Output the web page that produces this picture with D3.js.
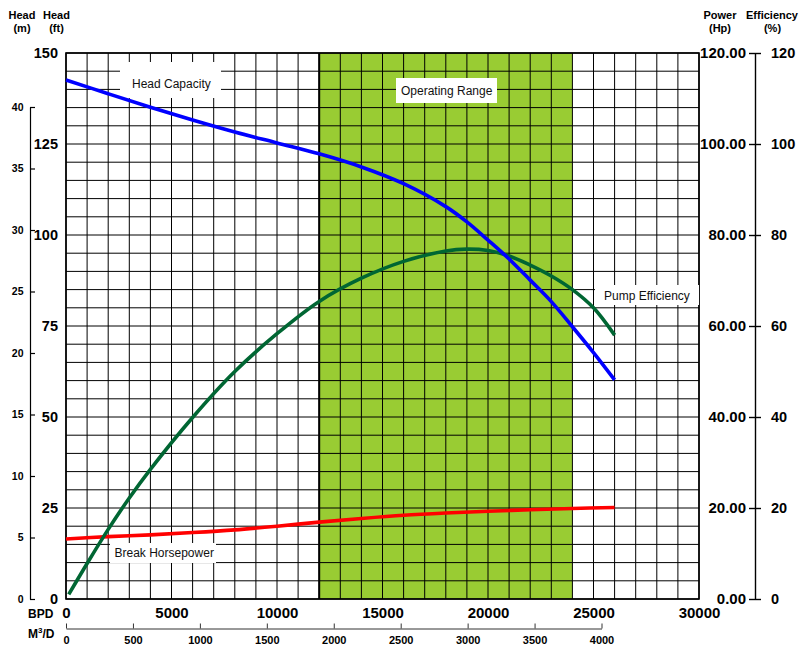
<!DOCTYPE html>
<html>
<head>
<meta charset="utf-8">
<script src="https://cdn.jsdelivr.net/npm/d3@7"></script>
<style>
  html, body { margin: 0; padding: 0; background: #fff; }
  svg { display: block; font-family: "Liberation Sans", Arial, sans-serif; }
</style>
</head>
<body>
<svg id="chart" width="804" height="656"></svg>
<script>
// ---------- data ----------
const headFlow = [0, 2000, 4000, 6000, 8000, 10000, 12000, 14000, 16000, 18000, 19000, 20000, 21000, 22000, 23000, 24000, 25000, 26000];
const headFt   = [142.6, 138.8, 135.1, 131.6, 128.3, 125.3, 122.3, 118.7, 114.1, 107.8, 103.6, 98.6, 93.4, 87.6, 81.7, 74.8, 67.7, 60.2];

const effFlow  = [130, 1000, 2000, 3000, 4000, 6000, 8000, 10000, 12000, 14000, 16000, 18000, 19000, 20000, 21000, 22000, 23000, 24000, 25000, 26000];
const effPct   = [1.0, 7.8, 15.3, 22.2, 28.5, 39.9, 50.0, 58.3, 65.4, 70.5, 74.2, 76.5, 76.9, 76.6, 75.4, 73.4, 71.0, 68.0, 64.0, 58.0];

const bhpFlow  = [0, 2000, 4000, 6000, 8000, 10000, 12000, 14000, 16000, 18000, 20000, 22000, 24000, 26000];
const bhpHp    = [13.2, 13.7, 14.1, 14.6, 15.2, 16.0, 16.9, 17.7, 18.4, 18.9, 19.3, 19.6, 19.9, 20.1];

const operatingRange = [12000, 24000];

const bpdTicks   = [0, 5000, 10000, 15000, 20000, 25000, 30000];
const m3Ticks    = [0, 500, 1000, 1500, 2000, 2500, 3000, 3500, 4000];
const ftTicks    = [0, 25, 50, 75, 100, 125, 150];
const mTicks     = [0, 5, 10, 15, 20, 25, 30, 35, 40];
const powerTicks = [0, 20, 40, 60, 80, 100, 120];
const effTicks   = [0, 20, 40, 60, 80, 100, 120];

const labels = {
  head: "Head Capacity",
  eff: "Pump Efficiency",
  bhp: "Break Horsepower",
  range: "Operating Range"
};

// ---------- scales ----------
const svg = d3.select("#chart");
const L = 66, R = 699, T = 53, B = 599;

const x   = d3.scaleLinear().domain([0, 30000]).range([L, R]);
const xM3 = d3.scaleLinear().domain([0, 4000]).range([L, 601.5]);
const yFt = d3.scaleLinear().domain([0, 150]).range([B, T]);
const yM  = d3.scaleLinear().domain([0, 44.39]).range([B, T]);
const yP  = d3.scaleLinear().domain([0, 120]).range([B, T]);

// ---------- operating range ----------
svg.append("rect")
  .attr("x", x(operatingRange[0])).attr("y", T)
  .attr("width", x(operatingRange[1]) - x(operatingRange[0]))
  .attr("height", B - T)
  .attr("fill", "#99cc33");

// ---------- grid ----------
const grid = svg.append("g").attr("stroke", "#000").attr("stroke-width", 1).attr("fill", "none");
grid.selectAll("line.v").data(d3.range(0, 30001, 1000)).join("line")
  .attr("x1", d => x(d)).attr("x2", d => x(d)).attr("y1", T).attr("y2", B);
grid.selectAll("line.h").data(d3.range(0, 151, 5)).join("line")
  .attr("class", "h")
  .attr("x1", L).attr("x2", R).attr("y1", d => yFt(d)).attr("y2", d => yFt(d));
svg.append("rect").attr("x", L).attr("y", T).attr("width", R - L).attr("height", B - T)
  .attr("fill", "none").attr("stroke", "#000").attr("stroke-width", 1.6);
svg.append("line").attr("x1", x(operatingRange[0])).attr("x2", x(operatingRange[0]))
  .attr("y1", T).attr("y2", B).attr("stroke", "#000").attr("stroke-width", 2);

// ---------- label boxes ----------
function box(x0, y0, w, h, text, tx, ty) {
  svg.append("rect").attr("x", x0).attr("y", y0).attr("width", w).attr("height", h).attr("fill", "#fff");
  svg.append("text").attr("x", tx).attr("y", ty).attr("font-size", 12).attr("fill", "#111").text(text);
}
box(120, 62, 101, 36, labels.head, 132, 88);
box(396, 78, 101, 25, labels.range, 401, 95);
box(595, 285, 104, 20, labels.eff, 604, 299.5);
box(110, 543, 106, 20, labels.bhp, 114.5, 556.5);

// ---------- curves ----------
function curve(flow, vals, yS, color) {
  const pts = flow.map((f, i) => [x(f), yS(vals[i])]);
  svg.append("path")
    .attr("d", d3.line().curve(d3.curveCatmullRom.alpha(0.5))(pts))
    .attr("fill", "none").attr("stroke", color).attr("stroke-width", 3.6);
}
curve(bhpFlow, bhpHp, yP, "#ff0000");
curve(effFlow, effPct, yP, "#006633");
curve(headFlow, headFt, yFt, "#0000ff");

// ---------- axes ----------
const bold = g => g.selectAll("text").attr("font-weight", "bold").attr("fill", "#000")
  .attr("font-family", "'Liberation Sans', Arial, sans-serif");

// bottom BPD
svg.append("g").attr("transform", `translate(0,${B})`)
  .call(d3.axisBottom(x).tickValues(bpdTicks).tickSize(0).tickPadding(0).tickFormat(d3.format("d")))
  .call(g => g.select(".domain").remove())
  .call(bold)
  .call(g => g.selectAll("text").attr("font-size", 15).attr("y", 19).attr("dy", 0));

// bottom M3/D
svg.append("g").attr("transform", "translate(0,628.5)")
  .call(d3.axisBottom(xM3).tickValues(m3Ticks).tickSizeInner(-5).tickSizeOuter(0).tickPadding(7).tickFormat(d3.format("d")))
  .call(g => g.selectAll(".domain, line").attr("stroke", "#333"))
  .call(bold)
  .call(g => g.selectAll("text").attr("font-size", 11).attr("y", 15).attr("dy", 0));

// left ft
svg.append("g").attr("transform", `translate(${L},0)`)
  .call(d3.axisLeft(yFt).tickValues(ftTicks).tickSize(0).tickPadding(8))
  .call(g => g.select(".domain").remove())
  .call(bold)
  .call(g => g.selectAll("text").attr("font-size", 14.5));

// left m
const yMaxis = yM.copy().domain([0, 40]).range([yM(0), yM(40)]);
svg.append("g").attr("transform", "translate(30,0)")
  .call(d3.axisRight(yMaxis).tickValues(mTicks).tickSizeInner(5).tickSizeOuter(0))
  .call(g => g.selectAll(".domain, line").attr("stroke", "#000").attr("stroke-width", 1.2))
  .call(bold)
  .call(g => g.selectAll("text").attr("font-size", 10.5).attr("x", -6.5).attr("text-anchor", "end"));

// right power
svg.append("g").attr("transform", `translate(${R},0)`)
  .call(d3.axisRight(yP).tickValues(powerTicks).tickSize(0).tickFormat(d3.format(".2f")))
  .call(g => g.select(".domain").remove())
  .call(bold)
  .call(g => g.selectAll("text").attr("font-size", 15).attr("x", 47).attr("text-anchor", "end"));

// right efficiency
svg.append("g").attr("transform", "translate(755,0)")
  .call(d3.axisRight(yP).tickValues(effTicks).tickSizeInner(6).tickSizeOuter(0).tickFormat(d3.format("d")))
  .call(g => g.selectAll(".tick line").attr("x1", -6))
  .call(g => g.selectAll(".domain, line").attr("stroke", "#000").attr("stroke-width", 1.4))
  .call(bold)
  .call(g => g.selectAll("text").attr("font-size", 14.5).attr("x", 16).attr("text-anchor", "start"));

// ---------- header / unit labels ----------
const hdr = svg.append("g").attr("font-weight", "bold").attr("font-size", 11).attr("text-anchor", "middle").attr("fill", "#000");
[["Head", 22, 18.5], ["(m)", 22, 31.5], ["Head", 56.5, 18.5], ["(ft)", 56.5, 31.5],
 ["Power", 720, 19], ["(Hp)", 720, 32], ["Efficiency", 772, 19], ["(%)", 772.5, 32]]
  .forEach(([t, tx, ty]) => hdr.append("text").attr("x", tx).attr("y", ty).text(t));

svg.append("text").attr("x", 28).attr("y", 617.5).attr("font-size", 12).attr("font-weight", "bold").text("BPD");
const m3 = svg.append("text").attr("x", 28).attr("y", 637.5).attr("font-size", 12).attr("font-weight", "bold");
m3.append("tspan").text("M");
m3.append("tspan").attr("font-size", 8).attr("dy", -5).text("3");
m3.append("tspan").attr("dy", 5).text("/D");
</script>
</body>
</html>
